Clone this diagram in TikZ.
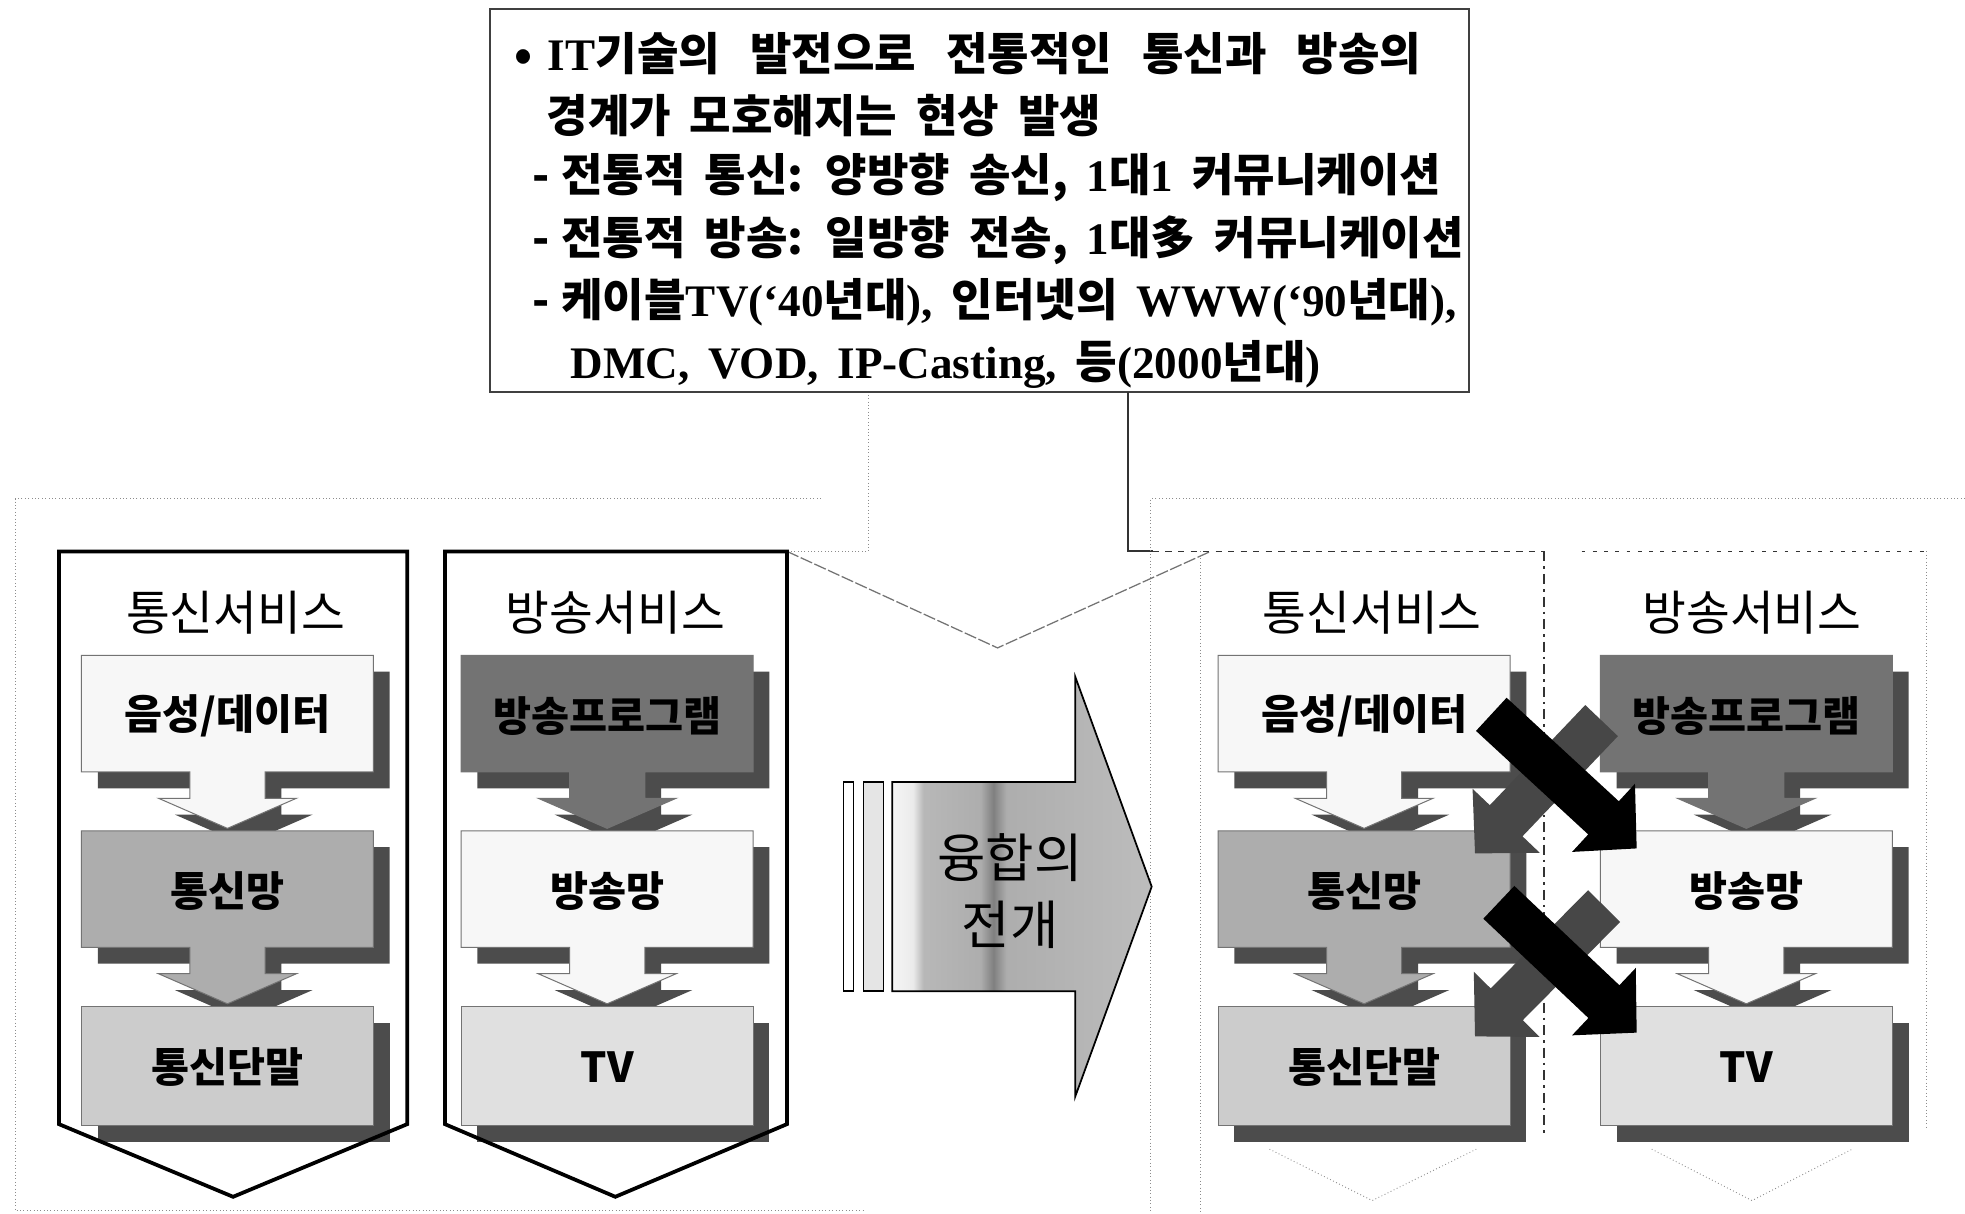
\documentclass[tikz,border=0pt]{standalone}
\usepackage{fontspec}
\setmainfont{Noto Sans CJK KR}
\newfontfamily\serifbf{Liberation Serif}
\usetikzlibrary{calc}
\newcommand\tn[1]{{\serifbf\bfseries #1}}
\newcommand\topfont{\fontsize{36}{40}\selectfont\bfseries\spaceskip=15pt\relax}
\definecolor{shad}{gray}{0.30}
\definecolor{progfill}{gray}{0.45}
\definecolor{netfill}{gray}{0.68}
\definecolor{termfill}{gray}{0.80}
\definecolor{tvfill}{gray}{0.88}
\definecolor{wfill}{gray}{0.97}
\pgfdeclarehorizontalshading{convshade}{100bp}{color(0bp)=(black!4); color(25bp)=(black!4); color(29bp)=(black!8); color(31bp)=(black!28); color(42bp)=(black!32); color(44.5bp)=(black!50); color(47bp)=(black!32); color(75bp)=(black!26); color(100bp)=(black!26)}
\newcommand\cbox[5]{%
  \fill[shad] ({#1+13},{#2+13}) -- ++(233,0) -- ++(0,93) -- ++(-86.5,0) -- ++(0,21) -- ++(25,0) -- ++(-55,24) -- ++(-55,-24) -- ++(25,0) -- ++(0,-21) -- ++(-86.5,0) -- cycle;
  \filldraw[boxline,fill=#3] (#1,#2) -- ++(233,0) -- ++(0,93) -- ++(-86.5,0) -- ++(0,21) -- ++(25,0) -- ++(-55,24) -- ++(-55,-24) -- ++(25,0) -- ++(0,-21) -- ++(-86.5,0) -- cycle;
  \node[lbl] (#4) at ({#1+116.5},{#2+48}) {#5};
}
\newcommand\pbox[5]{%
  \fill[shad] ({#1+13},{#2+13}) rectangle ++(233,95);
  \filldraw[boxline,fill=#3] (#1,#2) rectangle ++(233,95);
  \node[lbl] (#4) at ({#1+116.5},{#2+48.5}) {#5};
}
\newcommand\blockarrow[3]{%
  \coordinate (ba-base) at ($(#2)!36pt!(#1)$);
  \fill[#3] ($(#1)!18pt!90:(#2)$) -- ($(ba-base)!18pt!90:(#2)$) -- ($(ba-base)!37pt!90:(#2)$) -- (#2) -- ($(ba-base)!37pt!-90:(#2)$) -- ($(ba-base)!18pt!-90:(#2)$) -- ($(#1)!18pt!-90:(#2)$) -- cycle;
}
\begin{document}
\begin{tikzpicture}[x=1pt,y=-1pt,
  boxline/.style={draw=black!55,line width=0.8pt},
  lbl/.style={font=\fontsize{33}{36}\selectfont\bfseries,inner sep=0pt},
  ttl/.style={font=\fontsize{38}{40}\selectfont,inner sep=0pt},
  toptxt/.style={anchor=west,inner sep=0pt,font=\topfont},
  frame/.style={draw=black,line width=3pt,line join=miter},
  faint/.style={draw=black!45,line width=0.7pt,dotted},
  dashf/.style={draw=black!80,line width=1.3pt,dash pattern=on 5pt off 5pt},
]
\useasboundingbox (0,0) rectangle (1568,968);
\fill[white] (0,0) rectangle (1568,968);

% top text box
\node[draw=black!75,line width=1.2pt,minimum width=781pt,minimum height=306pt,inner sep=0pt] (top) at (781.5,160) {};
\node[toptxt] (t1) at (410,43) {\spaceskip=24pt\relax •\hspace{0.35em}\tn{IT}기술의 발전으로 전통적인 통신과 방송의};
\node[toptxt] (t2) at (436,92.6) {경계가 모호해지는 현상 발생};
\node[toptxt] (t3) at (425,142) {-\hspace{0.25em}전통적 통신: 양방향 송신, \tn{1}대\tn{1} 커뮤니케이션};
\node[toptxt] (t4) at (425,192) {-\hspace{0.25em}전통적 방송: 일방향 전송, \tn{1}대多 커뮤니케이션};
\node[toptxt] (t5) at (425,241) {-\hspace{0.25em}케이블\tn{TV(‘40}년대\tn{),} 인터넷의 \tn{WWW(‘90}년대\tn{),}};
\node[toptxt] (t6) at (455,291) {\tn{DMC, VOD, IP-Casting,} 등\tn{(2000}년대\tn{)}};

% callout from the top box
\coordinate (stemL) at (693,315);
\coordinate (stemR) at (900,313);
\coordinate (tipV) at (796,517);
\draw[faint] (stemL) -- (693,440) -- (628,440);
\draw[black!80,line width=1.6pt] (stemR) -- (900,440) -- (920,440);
\draw[black!55,line width=1pt,dash pattern=on 10pt off 2pt] (628,440) -- (tipV) -- (966,440);

% outer faint frames
\draw[faint] (655,398) -- (12,398) -- (12,966) -- (690,966);
\draw[faint] (1568,398) -- (918,398) -- (918,968);

% right dashed frames
\draw[dashf] (920,440) -- (1232,440);
\draw[black!80,line width=1.3pt,dash pattern=on 8pt off 4pt on 2pt off 4pt] (1232,440) -- (1232,905);
\draw[black!80,line width=1.3pt,dash pattern=on 3pt off 6pt] (1262,440) -- (1537,440);
\draw[faint] (1537,440) -- (1537,900);
\draw[faint] (958,440) -- (958,968);
\draw[faint] (1013,917) -- (1095,958) -- (1178,917);
\draw[faint] (1318,917) -- (1398,958) -- (1478,917);

% titles
\node[ttl] (lAt) at (188,489) {통신서비스};
\node[ttl] (lBt) at (491,489) {방송서비스};
\node[ttl] (rAt) at (1095,489) {통신서비스};
\node[ttl] (rBt) at (1398,489) {방송서비스};

% left columns
\cbox{65}{523}{wfill}{lA1}{음성/데이터}
\cbox{65}{663}{netfill}{lA2}{통신망}
\pbox{65}{803}{termfill}{lA3}{통신단말}
\cbox{368}{523}{progfill}{lB1}{방송프로그램}
\cbox{368}{663}{wfill}{lB2}{방송망}
\pbox{368}{803}{tvfill}{lB3}{TV}

% right columns
\cbox{972}{523}{wfill}{rA1}{음성/데이터}
\cbox{972}{663}{netfill}{rA2}{통신망}
\pbox{972}{803}{termfill}{rA3}{통신단말}
\cbox{1277}{523}{progfill}{rB1}{방송프로그램}
\cbox{1277}{663}{wfill}{rB2}{방송망}
\pbox{1277}{803}{tvfill}{rB3}{TV}

% left frames
\draw[frame] (47,440) -- (325,440) -- (325,897) -- (186,955) -- (47,897) -- cycle;
\draw[frame] (355,440) -- (628,440) -- (628,897) -- (491,955) -- (355,897) -- cycle;

% big arrow
\filldraw[fill=white,draw=black,line width=1.3pt] (673,624) rectangle (681,791);
\filldraw[fill=black!10,draw=black,line width=1.3pt] (689,624) rectangle (705,791);
\shadedraw[shading=convshade,draw=black,line width=1.4pt] (712,624) -- (858,624) -- (858,540) -- (919,707.5) -- (858,875) -- (858,791) -- (712,791) -- cycle;
\node[font=\fontsize{42}{53}\selectfont,align=center,inner sep=0pt] (conv) at (806,711) {융합의\\전개};

% crossing arrows
\coordinate (cS) at (1278,575); \coordinate (cT) at (1177,681);
\coordinate (dS) at (1280,723); \coordinate (dT) at (1177,827);
\coordinate (aS) at (1190,570); \coordinate (aT) at (1306,677);
\coordinate (bS) at (1196,720); \coordinate (bT) at (1306,824);
\blockarrow{cS}{cT}{black!72}
\blockarrow{dS}{dT}{black!72}
\blockarrow{aS}{aT}{black}
\blockarrow{bS}{bT}{black}
\end{tikzpicture}
\end{document}
